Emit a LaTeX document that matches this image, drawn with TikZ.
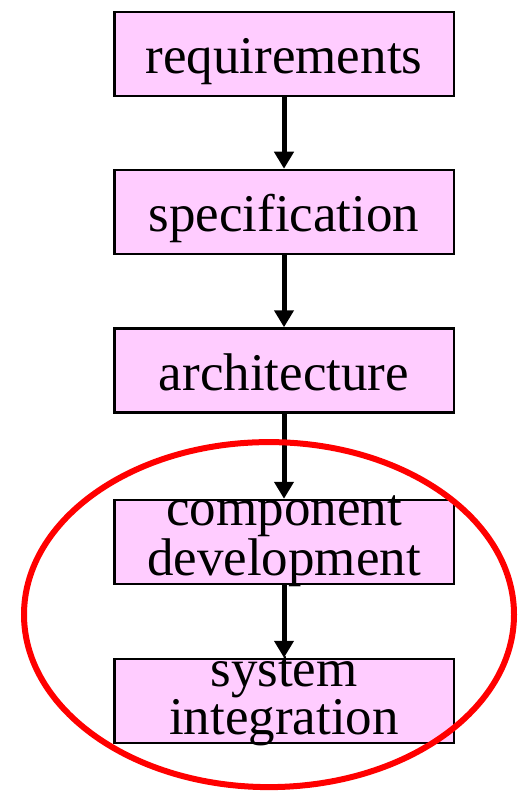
\documentclass[tikz,border=0pt]{standalone}
\usepackage{fontspec}
\setmainfont{Liberation Serif}
\usetikzlibrary{arrows.meta}
\definecolor{boxfill}{HTML}{FFCCFF}
\tikzset{
  stage/.style={draw=black, line width=2.5pt, fill=boxfill, rectangle,
    minimum width=339.5pt, minimum height=84pt, inner sep=0pt},
  stagetext/.style={anchor=base, inner sep=0pt, align=center,
    font=\fontsize{53}{43.5}\selectfont},
  flow/.style={line width=5pt, -{Triangle[length=17pt,width=19pt]}},
  group/.style={draw=red, line width=6pt}
}
\begin{document}
\begin{tikzpicture}[x=1pt, y=-1pt]
  \useasboundingbox (0,0) rectangle (518,791);
  % process stages
  \node[stage] (req)  at (284,54)    {};
  \node[stage] (spec) at (284,212)   {};
  \node[stage] (arch) at (284,370.5) {};
  \node[stage] (comp) at (284,542)   {};
  \node[stage] (sys)  at (284,701)   {};
  % stage labels (base = last line's baseline)
  \node[stagetext] (req-t)  at (284,74)    {requirements};
  \node[stagetext] (spec-t) at (284,232)   {specification};
  \node[stagetext] (arch-t) at (284,390.5) {architecture};
  \node[stagetext] (comp-t) at (284,575)   {component\\development};
  \node[stagetext] (sys-t)  at (284,734)   {system\\integration};
  % flow between stages
  \draw[flow] (req.south)  -- (spec.north);
  \draw[flow] (spec.south) -- (arch.north);
  \draw[flow] (arch.south) -- (comp.north);
  \draw[flow] (comp.south) -- (sys.north);
  % highlighted group
  \draw[group] (269,614.6) ellipse [x radius=245, y radius=172.5];
\end{tikzpicture}
\end{document}
